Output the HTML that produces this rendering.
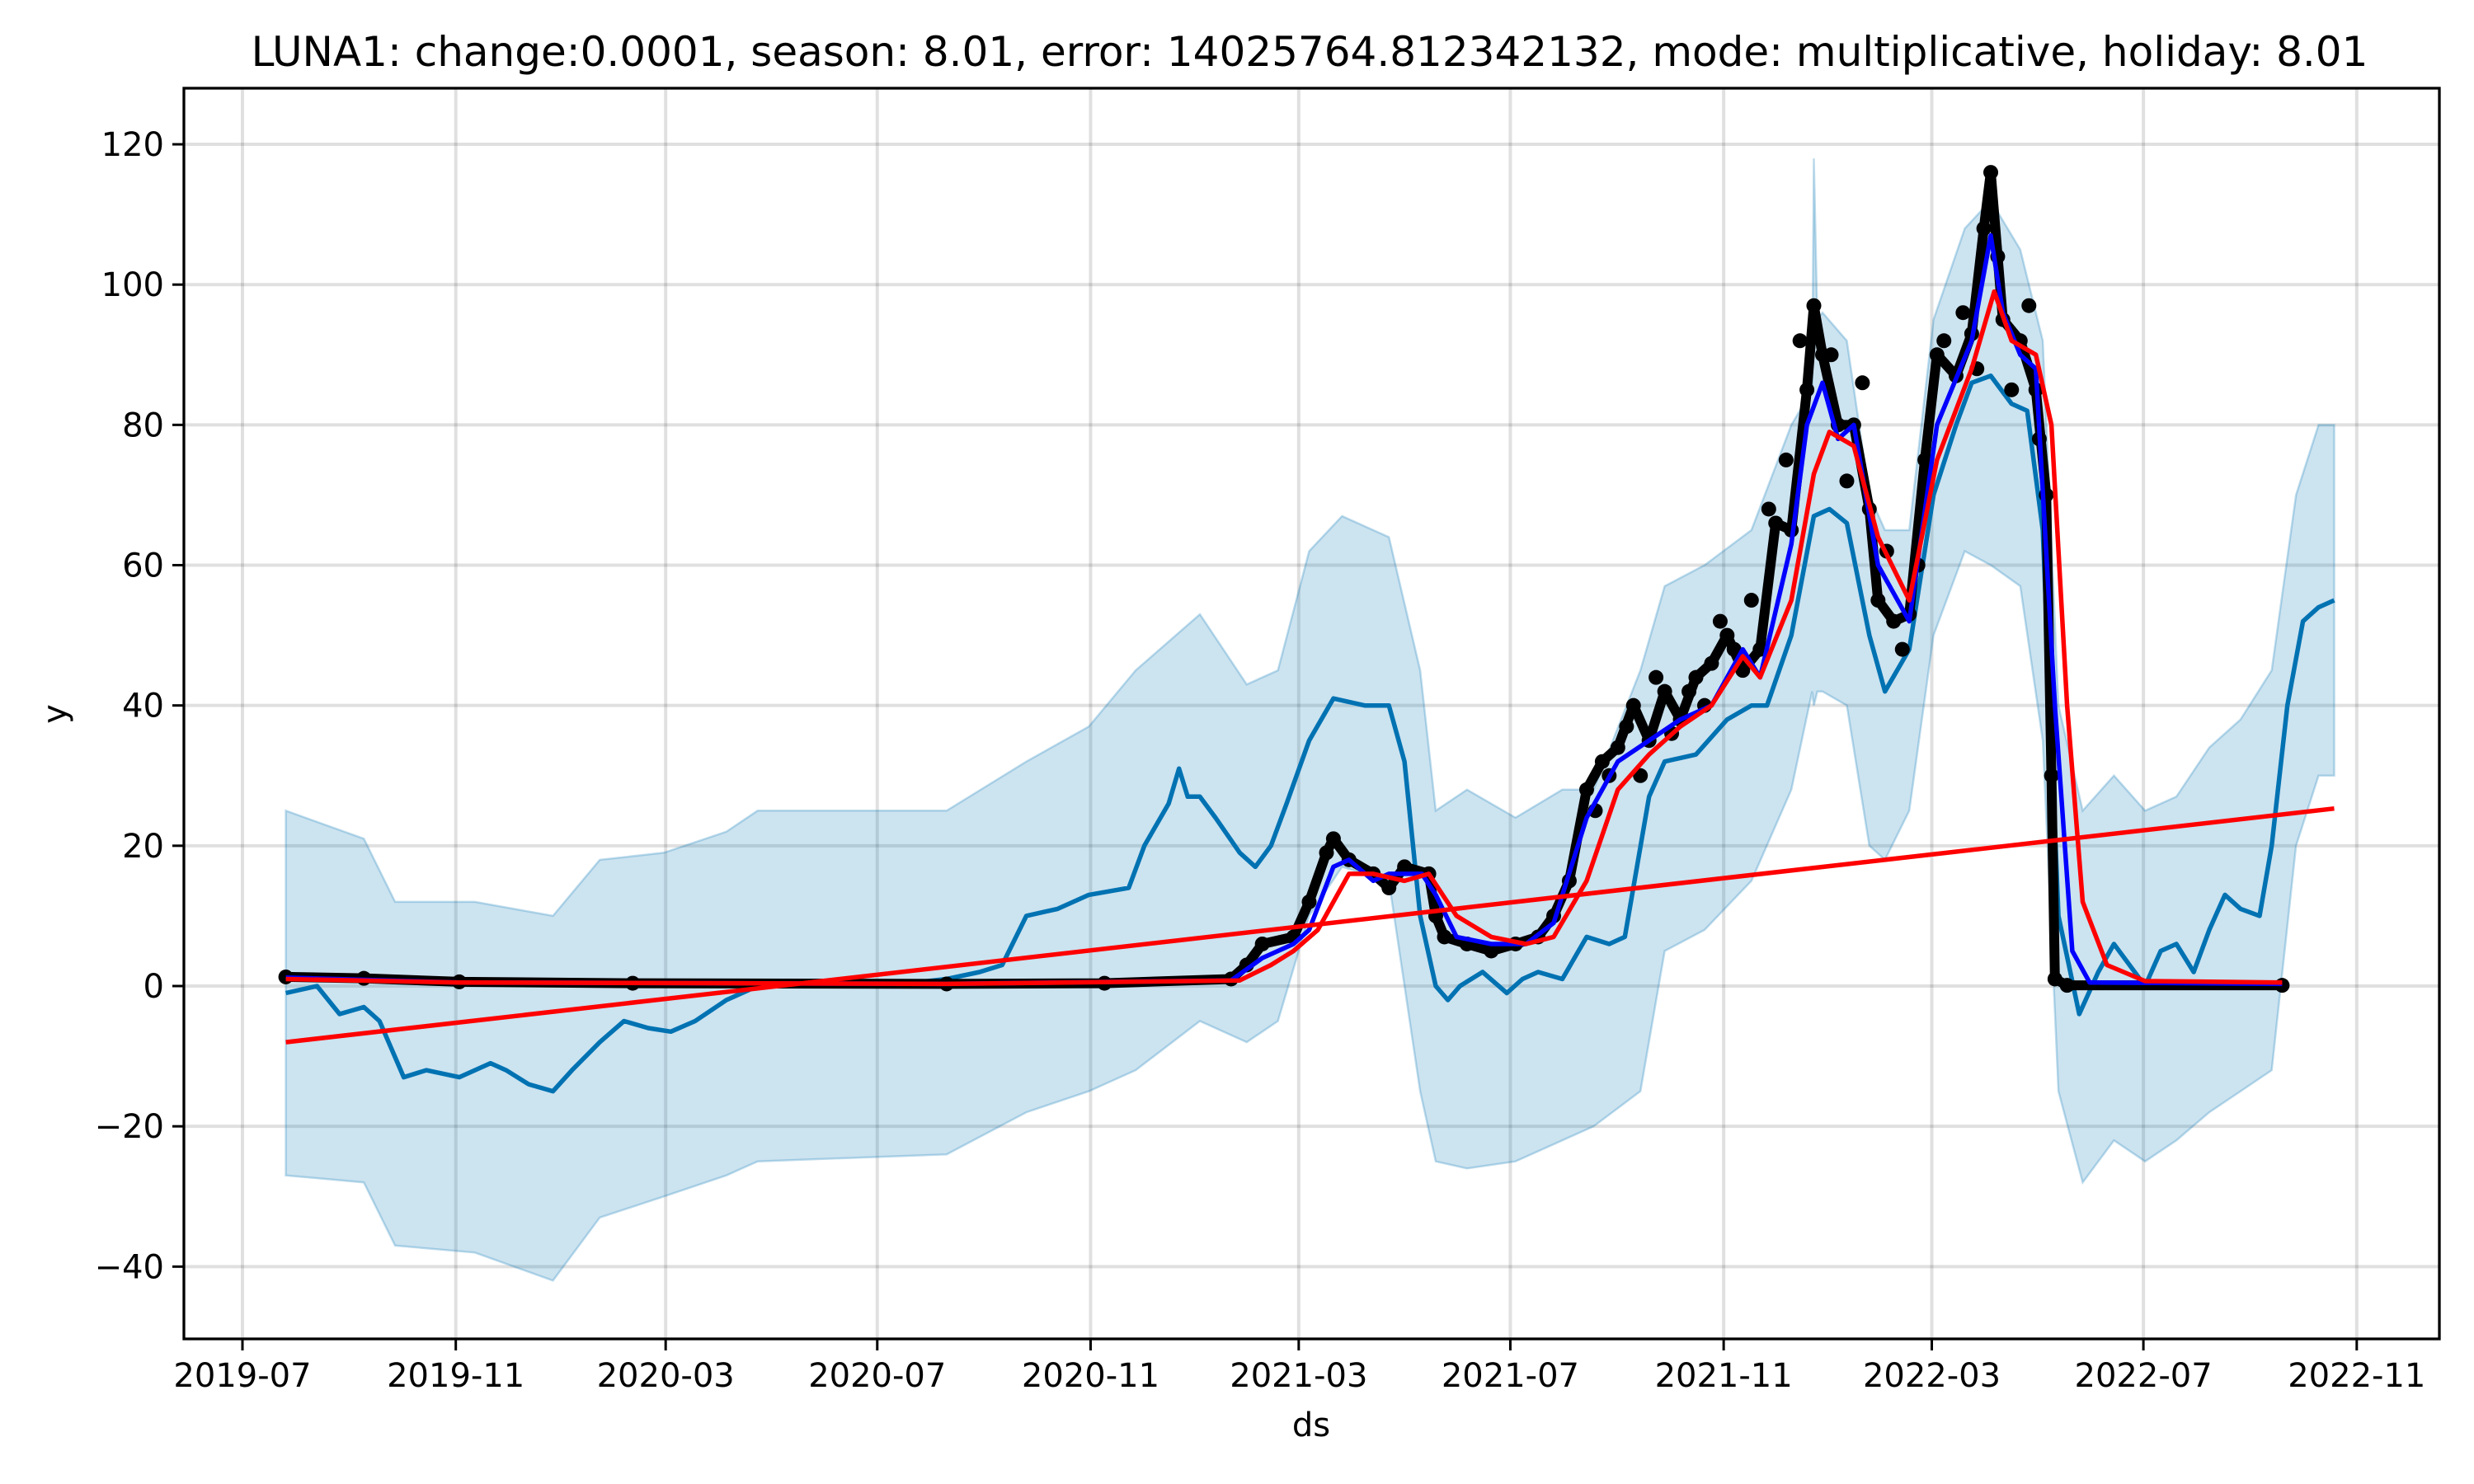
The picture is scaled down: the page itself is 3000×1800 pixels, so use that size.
<!DOCTYPE html>
<html><head><meta charset="utf-8"><style>
html,body{margin:0;padding:0;background:#fff}
svg{display:block}
text{font-family:"DejaVu Sans","Liberation Sans",sans-serif;fill:#000}
</style></head><body>
<svg id="chart" width="3000" height="1800" viewBox="0 0 3000 1800" xmlns="http://www.w3.org/2000/svg">
<rect x="0" y="0" width="3000" height="1800" fill="#fff"/>
<g id="grid"></g>
<g id="marks"></g>
<rect x="223" y="107" width="2735" height="1517" fill="none" stroke="#000" stroke-width="3.3"/>
<g id="axes"></g>
<text x="1588" y="80" font-size="50" text-anchor="middle">LUNA1: change:0.0001, season: 8.01, error: 14025764.812342132, mode: multiplicative, holiday: 8.01</text>
<text x="1590" y="1742" font-size="40" text-anchor="middle">ds</text>
<text x="80" y="866" font-size="40" text-anchor="middle" transform="rotate(-90 80 866)">y</text>
</svg>
<script>
// ---- data (x values are days since 2019-07-01) ----
const yTicks = [-40, -20, 0, 20, 40, 60, 80, 100, 120];
const xTickLabels = ["2019-07","2019-11","2020-03","2020-07","2020-11","2021-03","2021-07","2021-11","2022-03","2022-07","2022-11"];

const bandDays = [25,70,88,134,179,206,243,279,297,406,452,488,515,552,579,597,615,634,661,679,688,706,734,761,779,806,820,843,870,893,905,906,908,911,925,938,947,961,975,993,1008,1025,1038,1047,1061,1079,1097,1115,1134,1152,1170,1184,1197,1206];
const bandUpper = [25,21,12,12,10,18,19,22,25,25,32,37,45,53,43,45,62,67,64,45,25,28,24,28,28,45,57,60,65,80,85,118,95,96,92,70,65,65,95,108,112,105,92,40,25,30,25,27,34,38,45,70,80,80];
const bandLower = [-27,-28,-37,-38,-42,-33,-30,-27,-25,-24,-18,-15,-12,-5,-8,-5,10,17,15,-15,-25,-26,-25,-22,-20,-15,5,8,15,28,42,40,42,42,40,20,18,25,50,62,60,57,35,-15,-28,-22,-25,-22,-18,-15,-12,20,30,30];

const fcDays = [25,43,56,70,79,93,106,125,143,152,165,179,190,206,220,234,247,261,279,297,315,343,370,406,425,438,452,470,488,511,520,534,540,545,552,561,575,584,593,602,615,629,647,661,670,679,688,695,702,715,729,738,747,761,775,788,797,811,820,838,856,870,879,893,906,915,925,938,947,961,975,988,997,1008,1020,1029,1038,1047,1059,1070,1079,1088,1097,1106,1115,1125,1134,1143,1152,1163,1170,1179,1188,1197,1206];
const fcValues = [-1,0,-4,-3,-5,-13,-12,-13,-11,-12,-14,-15,-12,-8,-5,-6,-6.5,-5,-2,0,0.5,0.3,0,1,2,3,10,11,13,14,20,26,31,27,27,24,19,17,20,26,35,41,40,40,32,10,0,-2,0,2,-1,1,2,1,7,6,7,27,32,33,38,40,40,50,67,68,66,50,42,48,70,80,86,87,83,82,65,10,-4,2,6,3,0,5,6,2,8,13,11,10,20,40,52,54,55];

const actualDays = [25,70,125,225,406,497,570,579,588,606,615,625,629,638,652,661,670,684,688,693,706,720,734,747,756,765,775,784,793,802,811,820,829,838,847,856,865,875,884,893,902,906,911,920,929,938,943,952,961,970,977,988,997,1004,1008,1015,1025,1034,1040,1043,1045,1052,1176];
const actualValues = [1.3,1.1,0.6,0.4,0.3,0.4,1.0,3,6,7,12,19,21,18,16,14,17,16,10,7,6,5,6,7,10,15,28,32,34,40,35,42,38,44,46,50,45,48,66,65,85,97,90,80,80,68,55,52,53,75,90,87,93,108,116,95,92,85,70,30,1,0.1,0.1];

const extraDays = [780,788,798,806,815,824,834,843,852,860,870,880,890,898,916,925,934,948,957,966,981,992,1000,1012,1020,1030,1036];
const extraValues = [25,30,37,30,44,36,42,40,52,48,55,68,75,92,90,72,86,62,48,60,92,96,88,104,85,97,78];

const smoothDays = [25,125,406,570,588,606,615,629,638,652,661,680,688,700,720,740,756,775,793,811,829,847,865,875,893,902,911,920,929,943,961,977,997,1008,1015,1025,1034,1045,1055,1065,1176];
const smoothValues = [1.2,0.5,0.3,0.8,4,6,8,17,18,15,16,16,13,7,6,6,9,24,32,35,38,40,48,44,63,80,86,78,80,60,52,80,92,107,96,90,88,40,5,0.5,0.3];

const slowDays = [25,125,406,575,593,606,620,638,652,670,684,700,720,740,756,775,793,811,829,847,865,875,893,906,915,929,943,961,977,997,1010,1020,1034,1043,1052,1061,1075,1097,1176];
const slowValues = [1,0.5,0.3,0.8,3,5,8,16,16,15,16,10,7,6,7,15,28,33,37,40,47,44,55,73,79,77,64,55,75,88,99,92,90,80,40,12,3,0.7,0.5];

const trendDays = [25,1206];
const trendValues = [-8,25.3];

// ---- axes ----
const X0 = 294, XPD = 2.1032;
const Y0 = 1196, YPU = 8.508;
const L = 223, R = 2958, T = 107, B = 1624;
function xs(d){ return X0 + d*XPD; }
function ys(v){ return Y0 - v*YPU; }
function labelDay(s){ const p=s.split('-'); return (Date.UTC(+p[0],+p[1]-1,1)-Date.UTC(2019,6,1))/86400000; }
const NS="http://www.w3.org/2000/svg";
function mk(tag, attrs, parent){ const e=document.createElementNS(NS,tag); for(const k in attrs) e.setAttribute(k,attrs[k]); parent.appendChild(e); return e; }
const grid=document.getElementById('grid'), marks=document.getElementById('marks'), axes=document.getElementById('axes');

yTicks.forEach(v=>{
  const y=ys(v);
  const g=mk('line',{x1:L,x2:R,y1:y,y2:y,stroke:'#000','stroke-opacity':0.12,'stroke-width':4},grid);
  
  
  const t=mk('line',{x1:L-14,x2:L,y1:y,y2:y,stroke:'#000','stroke-width':3},axes);
  
  
  const tx=mk('text',{x:L-24,y:y+14,'font-size':40,'text-anchor':'end'},axes);
  tx.textContent = v<0 ? '\u2212'+Math.abs(v) : String(v);
  
  
});
xTickLabels.forEach(s=>{
  const x=xs(labelDay(s));
  const g=mk('line',{x1:x,x2:x,y1:T,y2:B,stroke:'#000','stroke-opacity':0.12,'stroke-width':4},grid);
  
  
  const t=mk('line',{x1:x,x2:x,y1:B,y2:B+14,stroke:'#000','stroke-width':3},axes);
  
  
  const tx=mk('text',{x:x,y:B+58,'font-size':40,'text-anchor':'middle'},axes);
  tx.textContent=s;
  
  
});

function pathOf(days, vals){ return days.map((d,i)=>(i?'L':'M')+xs(d).toFixed(1)+','+ys(vals[i]).toFixed(1)).join(' '); }

// band
let bd = pathOf(bandDays, bandUpper);
for(let i=bandDays.length-1;i>=0;i--) bd += ' L'+xs(bandDays[i]).toFixed(1)+','+ys(bandLower[i]).toFixed(1);
bd += ' Z';
const band=mk('path',{d:bd,fill:'#0072B2','fill-opacity':0.2,stroke:'#0072B2','stroke-opacity':0.25,'stroke-width':2.5},marks);



// forecast
const fc=mk('path',{d:pathOf(fcDays,fcValues),fill:'none',stroke:'#0072B2','stroke-width':5.5,'stroke-linejoin':'round'},marks);



// actual data: dense band + dots
const al=mk('path',{d:pathOf(actualDays,actualValues),fill:'none',stroke:'#000','stroke-width':12,'stroke-linejoin':'round','stroke-linecap':'round'},marks);


actualDays.forEach((d,i)=>{
  const c=mk('circle',{cx:xs(d),cy:ys(actualValues[i]),r:9,fill:'#000'},marks);
  
  
});
extraDays.forEach((d,i)=>{
  const c=mk('circle',{cx:xs(d),cy:ys(extraValues[i]),r:9,fill:'#000'},marks);
  
  
});

// smoothed lines
const sm=mk('path',{d:pathOf(smoothDays,smoothValues),fill:'none',stroke:'#0000ff','stroke-width':5.5,'stroke-linejoin':'round'},marks);


const sl=mk('path',{d:pathOf(slowDays,slowValues),fill:'none',stroke:'#ff0000','stroke-width':5.5,'stroke-linejoin':'round'},marks);


const tr=mk('path',{d:pathOf(trendDays,trendValues),fill:'none',stroke:'#ff0000','stroke-width':5.5},marks);


</script>
</body></html>
